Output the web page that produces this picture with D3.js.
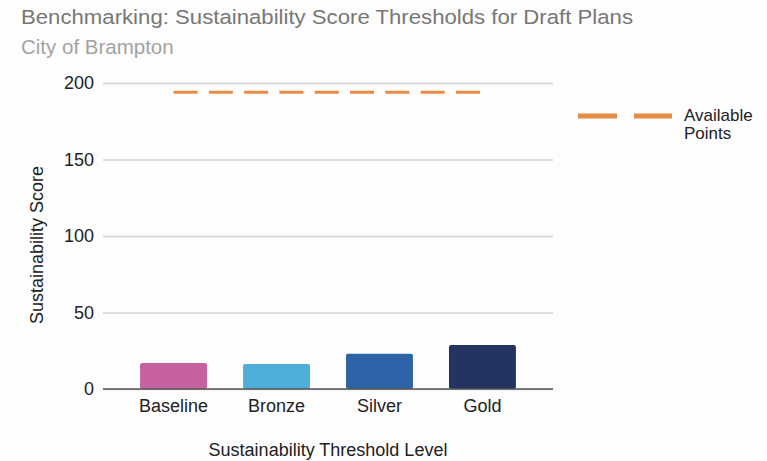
<!DOCTYPE html>
<html>
<head>
<meta charset="utf-8">
<script src="https://cdn.jsdelivr.net/npm/d3@7"></script>
<style>
  body { margin: 0; background: #fdfdfd; }
  svg { display: block; font-family: "Liberation Sans", Arial, sans-serif; }
</style>
</head>
<body>
<div class="chart"></div>
<script>
// données
const levels = ["Baseline", "Bronze", "Silver", "Gold"];
const scores = [17, 16.3, 23, 28.8];
const barColors = ["#c5629e", "#4fafd9", "#2f63a8", "#243362"];
const availablePoints = [194, 194, 194, 194];
const yTicks = [0, 50, 100, 150, 200];

const width = 767;
const height = 461;
const fontSize = 18;

const svg = d3.select('.chart').append('svg')
    .attr('width', width)
    .attr('height', height);

// titres
svg.append('text')
    .attr('x', 21).attr('y', 24)
    .attr('font-size', 20.5)
    .attr('fill', '#777')
    .attr('textLength', 612)
    .attr('lengthAdjust', 'spacingAndGlyphs')
    .text('Benchmarking: Sustainability Score Thresholds for Draft Plans');

svg.append('text')
    .attr('x', 21).attr('y', 54)
    .attr('font-size', 20.5)
    .attr('fill', '#a3a3a3')
    .text('City of Brampton');

const x = d3.scaleBand()
    .domain(levels)
    .range([103, 553])
    .paddingInner(0.35)
    .paddingOuter(0.36);

const y = d3.scaleLinear().domain([0, 200]).range([389, 83]);

// grille + ticks
const yAxis = d3.axisLeft(y).tickValues(yTicks).tickSize(-(553 - 103)).tickPadding(9);
const gy = svg.append('g')
    .attr('transform', 'translate(103,0)')
    .call(yAxis);
gy.select('.domain').remove();
gy.selectAll('.tick line').attr('stroke', '#d3d3d3').attr('stroke-width', 1.3);
gy.selectAll('.tick text')
    .attr('font-size', fontSize)
    .attr('fill', '#222')
    .attr('font-family', '"Liberation Sans", Arial, sans-serif');

// barres
svg.selectAll('.bar')
    .data(levels)
    .join('rect')
    .attr('class', 'bar')
    .attr('x', d => x(d))
    .attr('y', (d, i) => y(scores[i]))
    .attr('width', x.bandwidth())
    .attr('height', (d, i) => y(0) - y(scores[i]))
    .attr('rx', 2)
    .attr('fill', (d, i) => barColors[i]);

// ligne zéro
svg.append('line')
    .attr('x1', 103).attr('x2', 553)
    .attr('y1', y(0)).attr('y2', y(0))
    .attr('stroke', '#555')
    .attr('stroke-width', 1.5);

// axe x
const xAxis = d3.axisBottom(x).tickSize(0).tickPadding(10);
const gx = svg.append('g')
    .attr('transform', `translate(0,${y(0)})`)
    .call(xAxis);
gx.select('.domain').remove();
gx.selectAll('.tick text')
    .attr('font-size', fontSize)
    .attr('fill', '#222')
    .attr('font-family', '"Liberation Sans", Arial, sans-serif');

// points disponibles (ligne pointillée)
const line = d3.line()
    .x((d, i) => x(levels[i]) + x.bandwidth() / 2)
    .y(d => y(d));

svg.append('path')
    .datum(availablePoints)
    .attr('d', line)
    .attr('fill', 'none')
    .attr('stroke', '#e88b45')
    .attr('stroke-width', 3)
    .attr('stroke-dasharray', '24 11.3');

// titres des axes
svg.append('text')
    .attr('transform', 'translate(43,245) rotate(-90)')
    .attr('text-anchor', 'middle')
    .attr('font-size', fontSize)
    .attr('fill', '#222')
    .text('Sustainability Score');

svg.append('text')
    .attr('x', 328).attr('y', 456)
    .attr('text-anchor', 'middle')
    .attr('font-size', fontSize)
    .attr('fill', '#222')
    .text('Sustainability Threshold Level');

// légende
svg.append('line')
    .attr('x1', 578).attr('x2', 672)
    .attr('y1', 116).attr('y2', 116)
    .attr('stroke', '#e88b45')
    .attr('stroke-width', 5)
    .attr('stroke-dasharray', '39 17');

svg.append('text')
    .attr('x', 684).attr('y', 121)
    .attr('font-size', 17)
    .attr('fill', '#222')
    .text('Available');
svg.append('text')
    .attr('x', 684).attr('y', 139)
    .attr('font-size', 17)
    .attr('fill', '#222')
    .text('Points');
</script>
</body>
</html>
